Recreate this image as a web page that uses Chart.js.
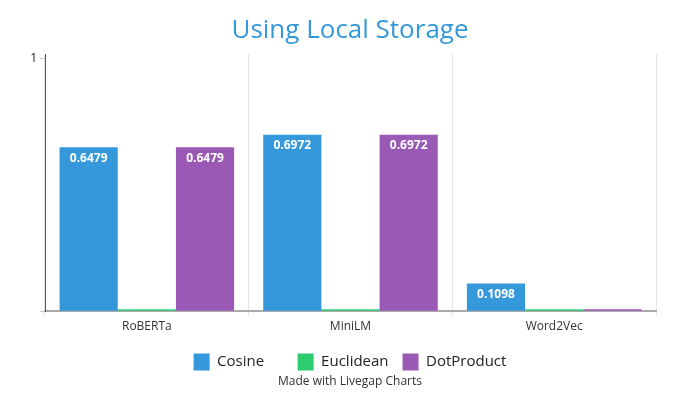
<!DOCTYPE html>
<html>
<head>
<meta charset="utf-8">
<script src="https://cdn.jsdelivr.net/npm/chart.js@4/dist/chart.umd.min.js"></script>
<style>
html,body{margin:0;padding:0;background:#fff;}
#wrap{width:700px;height:400px;}
</style>
</head>
<body>
<div id="wrap"><canvas id="c" width="700" height="400"></canvas></div>
<script>
const categories = ["RoBERTa", "MiniLM", "Word2Vec"];
const cosine = [0.6479, 0.6972, 0.1098];
const euclidean = [0, 0, 0];
const dotProduct = [0.6479, 0.6972, 0];
const seriesNames = ["Cosine", "Euclidean", "DotProduct"];
const seriesColors = ["#3498db", "#2ecc71", "#9b59b6"];
const yTicks = [0, 1];

const labelPlugin = {
  id: 'barLabels',
  afterLayout(chart) {
    // widen the y-axis box to the left so its tick label is not clipped
    chart.scales.y.left = 0;
  },
  afterDatasetsDraw(chart) {
    const ctx = chart.ctx;
    ctx.save();
    ctx.font = 'bold 12px "Open Sans"';
    ctx.fillStyle = '#fff';
    ctx.textAlign = 'center';
    ctx.textBaseline = 'middle';
    chart.data.datasets.forEach((ds, i) => {
      const meta = chart.getDatasetMeta(i);
      meta.data.forEach((bar, j) => {
        const v = ds.data[j];
        if (v > 0.05) {
          ctx.fillText(v.toFixed(4), bar.x, bar.y + 11);
        }
      });
    });
    ctx.restore();
  }
};

Chart.defaults.font.family = '"Open Sans", sans-serif';
new Chart(document.getElementById('c'), {
  type: 'bar',
  data: {
    labels: categories,
    datasets: [cosine, euclidean, dotProduct].map((d, i) => ({
      label: seriesNames[i],
      data: d,
      backgroundColor: seriesColors[i],
      borderWidth: 0,
      minBarLength: 2,
      categoryPercentage: 0.857,
      barPercentage: 1.0
    }))
  },
  options: {
    responsive: false,
    animation: false,
    layout: { padding: { left: 44, right: 44, top: 0, bottom: 4 } },
    plugins: {
      title: {
        display: true,
        text: 'Using Local Storage',
        color: '#3498db',
        font: { size: 26, weight: 'normal' },
        padding: { top: 15, bottom: 8 }
      },
      subtitle: {
        display: true,
        position: 'bottom',
        text: 'Made with Livegap Charts',
        color: '#333',
        font: { size: 12, weight: 'normal' },
        padding: { top: -6, bottom: 7 }
      },
      legend: {
        position: 'bottom',
        labels: {
          color: '#222',
          font: { size: 15 },
          boxWidth: 16,
          boxHeight: 17,
          padding: 14,
          generateLabels(chart) {
            const items = Chart.defaults.plugins.legend.labels.generateLabels(chart);
            items.forEach(it => { if (it.text === 'Cosine') it.text = 'Cosine     '; });
            return items;
          }
        }
      },
      tooltip: { enabled: false }
    },
    scales: {
      x: {
        grid: { color: '#e6e6e6', tickLength: 5, offset: true },
        border: { color: '#aaa', width: 2 },
        ticks: { color: '#333', font: { size: 12 }, padding: 3 },
        afterFit(scale) { scale.height += 3; }
      },
      y: {
        min: 0,
        max: 1.016,
        afterBuildTicks(axis) { axis.ticks = yTicks.map(v => ({ value: v })); },
        afterFit(scale) { scale.width = 1; },
        grid: { drawOnChartArea: false, color: '#ccc', tickLength: 5 },
        border: { color: '#555', width: 1 },
        ticks: {
          color: '#222',
          font: { size: 12 },
          padding: 3,
          callback: (v) => v === 0 ? '' : String(v)
        }
      }
    }
  },
  plugins: [labelPlugin]
});
</script>
</body>
</html>
